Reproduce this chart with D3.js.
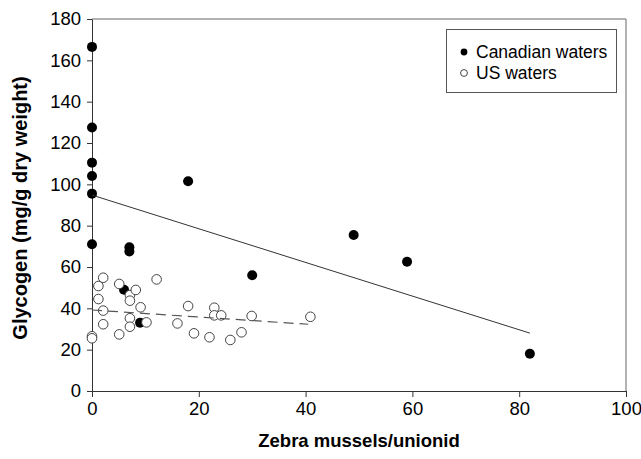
<!DOCTYPE html>
<html>
<head>
<meta charset="utf-8">
<script src="https://cdn.jsdelivr.net/npm/d3@7"></script>
<style>
  html, body { margin: 0; padding: 0; background: #fff; }
  text { font-family: "Liberation Sans", Arial, sans-serif; }
</style>
</head>
<body>
<svg id="chart" width="641" height="459"></svg>
<script>
// ---- data ----
const canX = [0, 0, 0, 0, 0, 0, 18, 7, 7, 6, 9, 30, 49, 59, 82];
const canY = [166.5, 127.5, 110.5, 104, 95.5, 71, 101.5, 69.5, 67.5, 49, 33, 56, 75.5, 62.5, 18];

const usX = [0, 0, 1.2, 1.2, 2.1, 2.1, 2.1, 5.1, 5.1, 7.1, 7.1, 7.1, 7.1, 8.2, 9.1, 10.2, 12.1, 16, 18, 19.1, 22, 22.9, 22.9, 24.2, 25.9, 28, 29.9, 40.9];
const usY = [26.5, 25.5, 50.8, 44.5, 54.8, 38.9, 32.3, 51.8, 27.4, 46.4, 43.7, 35.2, 31.1, 48.9, 40.5, 33.2, 54, 32.7, 41.1, 27.9, 26, 40.3, 36.6, 36.6, 24.7, 28.4, 36.3, 35.9];

const canFitX = [0, 82];
const canFitY = [94.8, 28];
const usFitX = [0, 40.5];
const usFitY = [39.2, 32.3];

const xTicks = [0, 20, 40, 60, 80, 100];
const yTicks = [0, 20, 40, 60, 80, 100, 120, 140, 160, 180];
const legendLabels = ["Canadian waters", "US waters"];
const xTitle = "Zebra mussels/unionid";
const yTitle = "Glycogen (mg/g dry weight)";

// ---- layout ----
const svg = d3.select("#chart");
const L = 92, R = 626, T = 19, B = 391;
const x = d3.scaleLinear().domain([0, 100]).range([L, R]);
const y = d3.scaleLinear().domain([0, 180]).range([B, T]);
const axisColor = "#333";

// frame (top & right)
svg.append("path")
  .attr("d", `M${L},${T}H${R}V${B}`)
  .attr("fill", "none").attr("stroke", "#666").attr("stroke-width", 1);

// axes
const xAxis = svg.append("g").attr("transform", `translate(0,${B})`)
  .call(d3.axisBottom(x).tickValues(xTicks).tickSize(6).tickPadding(5).tickSizeOuter(0));
const yAxis = svg.append("g").attr("transform", `translate(${L},0)`)
  .call(d3.axisLeft(y).tickValues(yTicks).tickSize(5).tickPadding(6).tickSizeOuter(0));
[xAxis, yAxis].forEach(g => {
  g.select(".domain").attr("stroke", axisColor);
  g.selectAll(".tick line").attr("stroke", axisColor);
  g.selectAll(".tick text").attr("fill", "#000").style("font-size", "18.5px")
    .style("font-family", "'Liberation Sans', Arial, sans-serif");
});

// titles
svg.append("text").attr("x", (L + R) / 2).attr("y", 447)
  .attr("text-anchor", "middle").style("font-size", "18.5px").style("font-weight", "bold")
  .text(xTitle);
svg.append("text").attr("transform", `translate(27,${(T + B) / 2 + 3}) rotate(-90)`)
  .attr("text-anchor", "middle").style("font-size", "20px").style("font-weight", "bold")
  .text(yTitle);

// Canadian points
const can = canX.map((v, i) => ({ x: v, y: canY[i] }));
svg.append("g").selectAll("circle").data(can).enter().append("circle")
  .attr("cx", d => x(d.x)).attr("cy", d => y(d.y)).attr("r", 5)
  .attr("fill", "#000");

// US points
const us = usX.map((v, i) => ({ x: v, y: usY[i] }));
svg.append("g").selectAll("circle").data(us).enter().append("circle")
  .attr("cx", d => x(d.x)).attr("cy", d => y(d.y)).attr("r", 4.8)
  .attr("fill", "#fff").attr("stroke", "#444").attr("stroke-width", 1);

// fit lines
const line = d3.line().x(d => x(d[0])).y(d => y(d[1]));
svg.append("path").datum(canFitX.map((v, i) => [v, canFitY[i]]))
  .attr("d", line).attr("fill", "none").attr("stroke", "#333").attr("stroke-width", 1);
svg.append("path").datum(usFitX.map((v, i) => [v, usFitY[i]]))
  .attr("d", line).attr("fill", "none").attr("stroke", "#555").attr("stroke-width", 1.2)
  .attr("stroke-dasharray", "10,6");

// legend
const lg = svg.append("g");
lg.append("rect").attr("x", 446.5).attr("y", 29.5).attr("width", 170).attr("height", 63)
  .attr("fill", "#fff").attr("stroke", "#555").attr("stroke-width", 1);
legendLabels.forEach((lab, i) => {
  const cy = 52 + i * 21;
  lg.append("circle").attr("cx", 464).attr("cy", cy).attr("r", 3.4)
    .attr("fill", i === 0 ? "#000" : "#fff").attr("stroke", i === 0 ? "none" : "#444").attr("stroke-width", 1);
  lg.append("text").attr("x", 476).attr("y", cy + 6).style("font-size", "17.5px").text(lab);
});
</script>
</body>
</html>
